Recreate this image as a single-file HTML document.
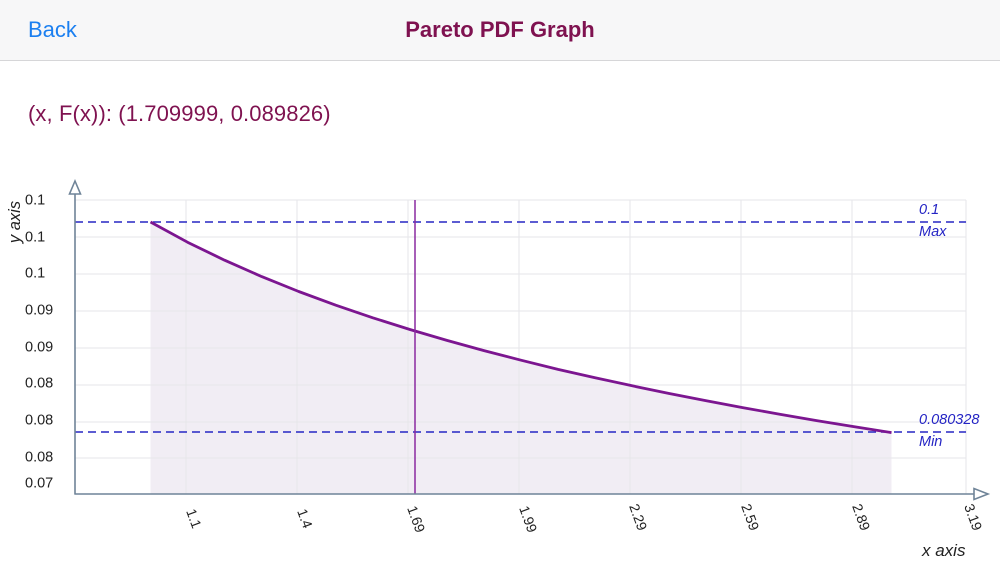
<!DOCTYPE html>
<html>
<head>
<meta charset="utf-8">
<style>
  html,body{margin:0;padding:0;background:#fff;}
  body{width:1000px;height:563px;overflow:hidden;position:relative;font-family:"Liberation Sans",sans-serif;}
  .hdr{position:absolute;left:0;top:0;width:1000px;height:60px;background:#f7f7f8;border-bottom:1px solid #d6d6d8;}
  .back{position:absolute;left:28px;top:16px;font-size:22px;color:#1b7ff0;line-height:28px;}
  .title{position:absolute;left:0;width:1000px;top:16px;text-align:center;font-size:22px;font-weight:bold;color:#7f1250;line-height:28px;}
  .coord{position:absolute;left:28px;top:100px;font-size:22px;color:#7f1250;line-height:28px;letter-spacing:0.1px;}
  svg{position:absolute;left:0;top:0;}
</style>
</head>
<body>
<div class="hdr"><div class="back">Back</div><div class="title">Pareto PDF Graph</div></div>
<div class="coord">(x, F(x)): (1.709999, 0.089826)</div>
<svg width="1000" height="563" viewBox="0 0 1000 563" xmlns="http://www.w3.org/2000/svg">
  <path d="M150.5,222 L187.5,242.2 L224.6,260.2 L261.7,276.6 L298.7,291.5 L335.8,305.2 L372.8,317.8 L409.9,329.5 L446.9,340.4 L484,350.6 L521,360.2 L558,369.4 L595.1,377.7 L632.2,385.8 L669.2,393.5 L706.3,400.8 L743.3,407.7 L780.4,414.4 L817.4,420.7 L854.5,426.8 L891.5,432.6 L891.5,494 L150.5,494 Z" fill="#f1edf4"/>
  <g stroke="#e6e6ea" stroke-width="1">
    <line x1="75" y1="200" x2="966" y2="200"/>
    <line x1="75" y1="237" x2="966" y2="237"/>
    <line x1="75" y1="274" x2="966" y2="274"/>
    <line x1="75" y1="311" x2="966" y2="311"/>
    <line x1="75" y1="348" x2="966" y2="348"/>
    <line x1="75" y1="385" x2="966" y2="385"/>
    <line x1="75" y1="422" x2="966" y2="422"/>
    <line x1="75" y1="458" x2="966" y2="458"/>
    <line x1="186" y1="200" x2="186" y2="494"/>
    <line x1="297" y1="200" x2="297" y2="494"/>
    <line x1="408" y1="200" x2="408" y2="494"/>
    <line x1="519" y1="200" x2="519" y2="494"/>
    <line x1="630" y1="200" x2="630" y2="494"/>
    <line x1="741" y1="200" x2="741" y2="494"/>
    <line x1="852" y1="200" x2="852" y2="494"/>
    <line x1="966" y1="200" x2="966" y2="494"/>
  </g>
  <g stroke="#2626c4" stroke-width="1.5" stroke-dasharray="8,5" fill="none">
    <line x1="75" y1="222" x2="966" y2="222"/>
    <line x1="75" y1="432" x2="966" y2="432"/>
  </g>
  <path d="M150.5,222 L187.5,242.2 L224.6,260.2 L261.7,276.6 L298.7,291.5 L335.8,305.2 L372.8,317.8 L409.9,329.5 L446.9,340.4 L484,350.6 L521,360.2 L558,369.4 L595.1,377.7 L632.2,385.8 L669.2,393.5 L706.3,400.8 L743.3,407.7 L780.4,414.4 L817.4,420.7 L854.5,426.8 L891.5,432.6" fill="none" stroke="#7c1690" stroke-width="2.8" stroke-linejoin="round"/>
  <line x1="415" y1="200" x2="415" y2="494" stroke="#8a2aa0" stroke-width="1.5"/>
  <g stroke="#6f8498" stroke-width="1.6" fill="#fff">
    <line x1="75" y1="194" x2="75" y2="494.5"/>
    <line x1="74.5" y1="494" x2="974" y2="494"/>
    <polygon points="75,181 69.5,194 80.5,194"/>
    <polygon points="988,494 974,488.5 974,499.5"/>
  </g>
  <g font-family="Liberation Sans, sans-serif" font-size="14.5" fill="#222">
    <text x="25" y="204.5">0.1</text>
    <text x="25" y="241.5">0.1</text>
    <text x="25" y="277.5">0.1</text>
    <text x="25" y="314.5">0.09</text>
    <text x="25" y="351.5">0.09</text>
    <text x="25" y="387.5">0.08</text>
    <text x="25" y="424.5">0.08</text>
    <text x="25" y="461.5">0.08</text>
    <text x="25" y="487.5">0.07</text>
  </g>
  <text transform="translate(20,222) rotate(-90)" text-anchor="middle" font-family="Liberation Sans, sans-serif" font-size="16.5" font-style="italic" fill="#222">y axis</text>
  <g font-family="Liberation Sans, sans-serif" font-size="14" fill="#222">
    <text transform="translate(186,511) rotate(70)">1.1</text>
    <text transform="translate(297,511) rotate(70)">1.4</text>
    <text transform="translate(407,508) rotate(70)">1.69</text>
    <text transform="translate(519,508) rotate(70)">1.99</text>
    <text transform="translate(629,506) rotate(70)">2.29</text>
    <text transform="translate(741,506) rotate(70)">2.59</text>
    <text transform="translate(852,506) rotate(70)">2.89</text>
    <text transform="translate(964,506) rotate(70)">3.19</text>
  </g>
  <text x="922" y="556" font-family="Liberation Sans, sans-serif" font-size="17" font-style="italic" fill="#222">x axis</text>
  <g font-family="Liberation Sans, sans-serif" font-size="14.5" font-style="italic" fill="#2424c4">
    <text x="919" y="214">0.1</text>
    <text x="919" y="236">Max</text>
    <text x="919" y="424">0.080328</text>
    <text x="919" y="446">Min</text>
  </g>
</svg>
</body>
</html>
